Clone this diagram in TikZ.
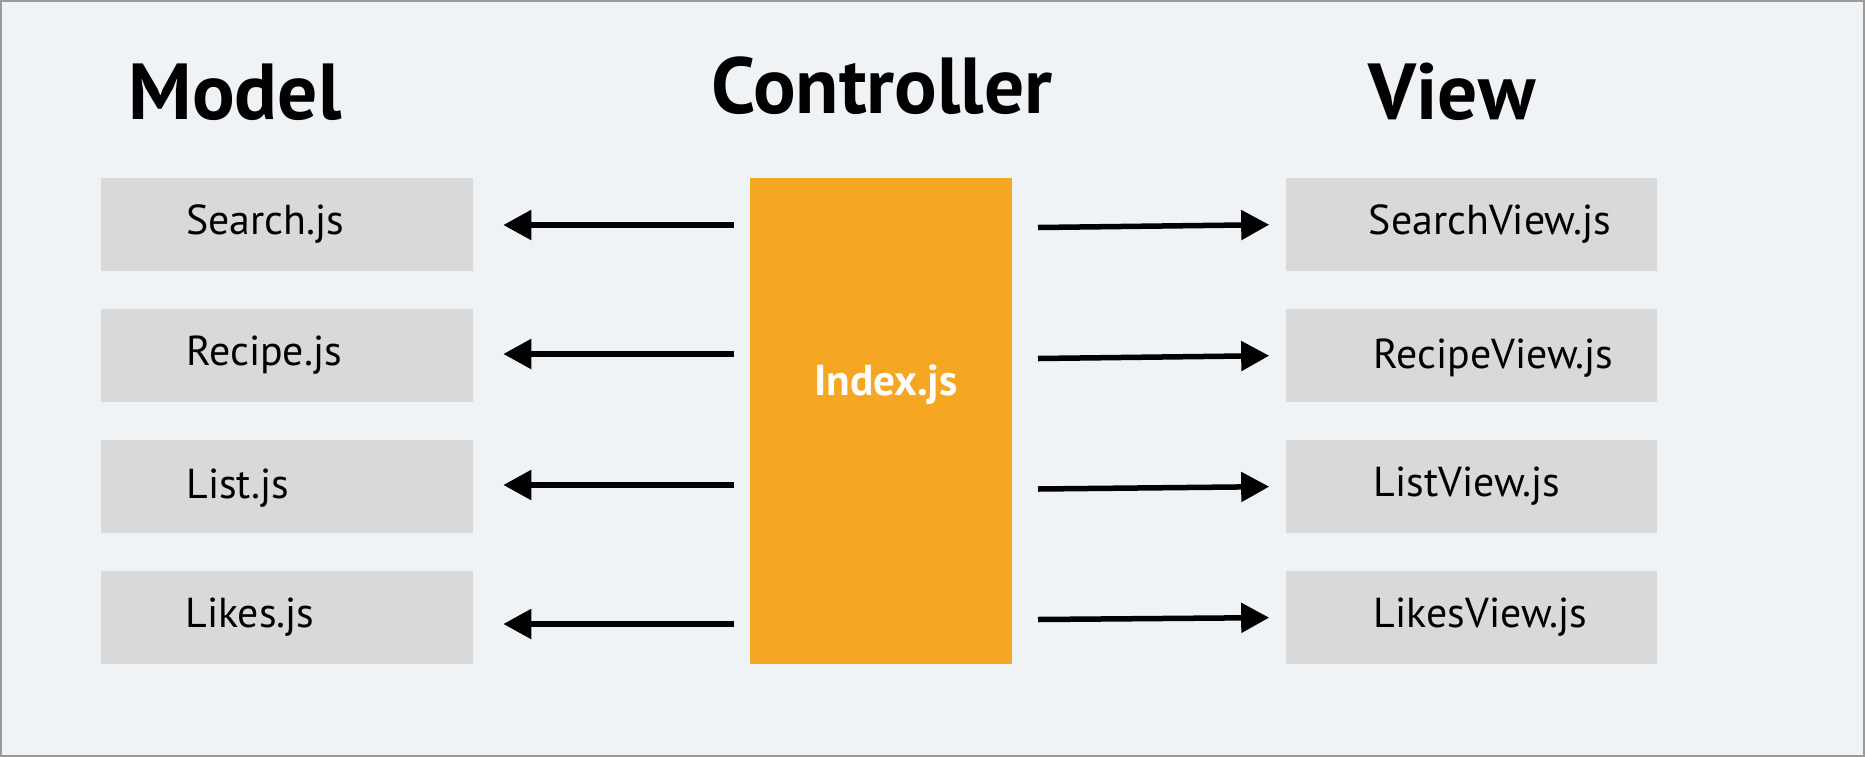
\documentclass[tikz,border=0pt]{standalone}
\usepackage{fontspec}
\setmainfont{PT Sans}
\usetikzlibrary{arrows.meta,calc}
\definecolor{panelbg}{HTML}{EFF3F6}
\definecolor{filebox}{HTML}{D9D9D9}
\definecolor{ctrlorange}{HTML}{F5A623}
\definecolor{framegray}{HTML}{9A9A9A}
\tikzset{
	heading/.style={anchor=base, inner sep=0pt, font=\fontsize{22.6}{27}\selectfont\bfseries},
	jsbox/.style={fill=filebox, minimum width=3.71cm, minimum height=0.93cm, inner sep=0pt},
	jsname/.style={anchor=west, inner sep=0pt, font=\fontsize{11.9}{14}\selectfont},
	flow/.style={line width=0.055cm, -{Triangle[length=0.28cm,width=0.29cm]}}
}
\begin{document}
\begin{tikzpicture}[x=0.01cm,y=-0.01cm]	%1 unit = 1 pixel, y downwards
	\useasboundingbox (0,0) rectangle (1865,757);
	\draw[fill=panelbg, draw=framegray, line width=0.02cm] (1,1) rectangle (1864,756);
	
	%headings
	\node[heading] (model) at (235,119) {Model};
	\node[heading] (controller) at (882,113) {Controller};
	\node[heading] (view) at (1452,119) {View};
	
	%Model
	\node[jsbox] (m1) at (287,224.5) {};
	\node[jsbox] (m2) at (287,355.5) {};
	\node[jsbox] (m3) at (287,486.5) {};
	\node[jsbox] (m4) at (287,617.5) {};
	\node[jsname] (search) at ([xshift=0.85cm]m1.west) {Search.js};
	\node[jsname] (recipe) at ([xshift=0.85cm]m2.west) {Recipe.js};
	\node[jsname] (list) at ([xshift=0.85cm,yshift=-0.02cm]m3.west) {List.js};
	\node[jsname] (likes) at ([xshift=0.84cm]m4.west) {Likes.js};
	
	%Controller
	\node[fill=ctrlorange, minimum width=2.62cm, minimum height=4.86cm, inner sep=0pt] (ctrl) at (881,421) {};
	\node[anchor=base, inner sep=0pt, text=white, font=\fontsize{12.3}{15}\selectfont\bfseries] (index) at (886,395) {Index.js};
	
	%View
	\node[jsbox] (v1) at (1471.5,224.5) {};
	\node[jsbox] (v2) at (1471.5,355.5) {};
	\node[jsbox] (v3) at (1471.5,486.5) {};
	\node[jsbox] (v4) at (1471.5,617.5) {};
	\node[jsname] (searchview) at ([xshift=0.83cm]v1.west) {SearchView.js};
	\node[jsname] (recipeview) at ([xshift=0.88cm,yshift=-0.03cm]v2.west) {RecipeView.js};
	\node[jsname] (listview) at ([xshift=0.88cm]v3.west) {ListView.js};
	\node[jsname] (likesview) at ([xshift=0.88cm]v4.west) {LikesView.js};
	
	%arrows to the models
	\coordinate (l1) at (734,225);
	\coordinate (l2) at (734,354);
	\coordinate (l3) at (734,485);
	\coordinate (l4) at (734,624);
	\draw[flow, shorten >=0.3cm] (l1) -- (l1 -| m1.east);
	\draw[flow, shorten >=0.3cm] (l2) -- (l2 -| m2.east);
	\draw[flow, shorten >=0.3cm] (l3) -- (l3 -| m3.east);
	\draw[flow, shorten >=0.3cm] (l4) -- (l4 -| m4.east);
	
	%arrows to the views
	\coordinate (r1) at (1038,227.5);
	\coordinate (r2) at (1038,358.5);
	\coordinate (r3) at (1038,489);
	\coordinate (r4) at (1038,619.5);
	\draw[flow, shorten >=0.16cm] (r1) -- (v1.west);
	\draw[flow, shorten >=0.16cm] (r2) -- (v2.west);
	\draw[flow, shorten >=0.16cm] (r3) -- (v3.west);
	\draw[flow, shorten >=0.16cm] (r4) -- (v4.west);
\end{tikzpicture}
\end{document}
